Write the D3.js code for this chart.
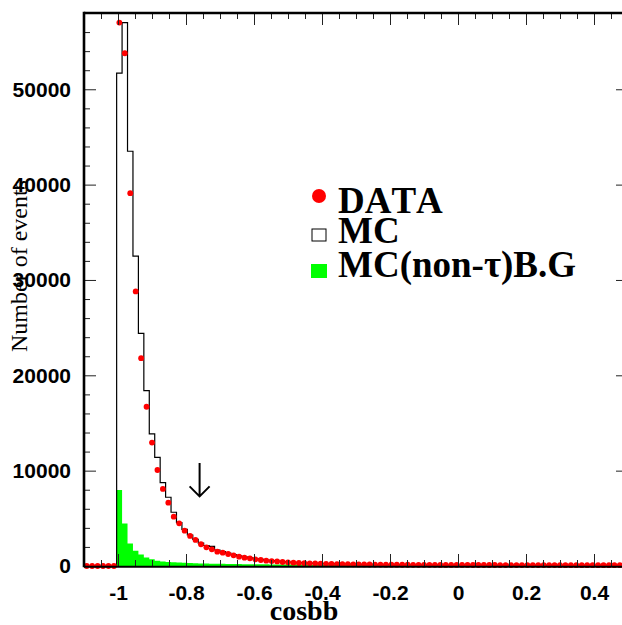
<!DOCTYPE html>
<html>
<head>
<meta charset="utf-8">
<script src="https://cdn.jsdelivr.net/npm/d3@7"></script>
<style>
  body { margin: 0; background: #fff; }
  svg { display: block; }
  .lab { font-family: "Liberation Sans", Arial, sans-serif; font-weight: bold; font-size: 21px; fill: #000; }
  .ser { font-family: "Liberation Serif", "Times New Roman", serif; fill: #000; font-kerning: none; }
</style>
</head>
<body>
<svg id="chart" width="622" height="625"></svg>
<script>
// 100 bins from -1.1 to 0.5 (width 0.016)
const binLow = -1.1, binHigh = 0.5, nBins = 100;

const dataCounts = [
  0, 0, 0, 0, 0, 0, 57000, 53780, 39100, 28800,
  21800, 16700, 12940, 10070, 8080, 6640, 5170, 4480, 3700, 3150,
  2730, 2280, 1960, 1750, 1500, 1400, 1260, 1120, 980, 870,
  810, 700, 630, 560, 520, 480, 420, 390, 350, 315,
  300, 280, 260, 245, 230, 220, 205, 195, 185, 175,
  165, 160, 155, 150, 145, 140, 138, 135, 132, 130,
  128, 125, 122, 120, 118, 116, 115, 113, 112, 110,
  108, 107, 106, 105, 104, 103, 102, 101, 100, 99,
  98, 97, 96, 95, 94, 93, 92, 91, 90, 90,
  89, 88, 87, 86, 85, 85, 84, 83, 82, 81
];

const mcCounts = [
  0, 0, 0, 0, 0, 0, 51700, 57000, 43500, 32500,
  24400, 18400, 13850, 11400, 8740, 7210, 5640, 4545, 3850, 3250,
  2800, 2400, 2150, 2050, 1680, 1500, 1350, 1200, 1060, 950,
  860, 770, 690, 620, 560, 510, 460, 420, 380, 350,
  320, 295, 275, 255, 240, 228, 215, 205, 195, 185,
  175, 168, 160, 155, 150, 145, 141, 138, 135, 132,
  130, 127, 124, 122, 120, 118, 116, 115, 113, 111,
  110, 108, 107, 106, 105, 104, 103, 102, 101, 100,
  99, 98, 97, 96, 95, 94, 93, 92, 91, 90,
  90, 89, 88, 87, 86, 86, 85, 84, 83, 82
];

const bgCounts = [
  0, 0, 0, 0, 0, 0, 7970, 4450, 2350, 1600,
  1200, 900, 700, 560, 460, 430, 400, 370, 340, 310,
  290, 270, 255, 245, 235, 225, 215, 205, 200, 195,
  190, 185, 180, 175, 170, 165, 160, 155, 150, 148,
  145, 142, 140, 138, 135, 132, 130, 128, 126, 124,
  122, 120, 118, 117, 116, 115, 114, 113, 112, 111,
  110, 109, 108, 107, 106, 105, 104, 103, 102, 101,
  100, 100, 99, 99, 98, 98, 97, 97, 96, 96,
  95, 95, 94, 94, 93, 93, 92, 92, 91, 91,
  90, 90, 90, 90, 90, 90, 90, 90, 90, 90
];

const xTicks = [-1, -0.8, -0.6, -0.4, -0.2, 0, 0.2, 0.4];
const yTicks = [0, 10000, 20000, 30000, 40000, 50000];

const legendItems = ['DATA', 'MC', 'MC(non-τ)B.G'];
const arrowX = -0.76, arrowFrom = 10800, arrowTo = 7300;

const frame = { left: 84, right: 628, top: 13, bottom: 566 };

const svg = d3.select('#chart');

const x = d3.scaleLinear().domain([binLow, binHigh]).range([frame.left, frame.right]);
const y = d3.scaleLinear().domain([0, 58000]).range([frame.bottom, frame.top]);

const binW = (binHigh - binLow) / nBins;
const edges = d3.range(nBins + 1).map(i => binLow + i * binW);
const centers = d3.range(nBins).map(i => binLow + (i + 0.5) * binW);

// step points: each bin value starts at its low edge; repeat last value at the high edge
function steps(counts) {
  let pts = counts.map((v, i) => [edges[i], v]);
  pts.push([edges[nBins], counts[nBins - 1]]);
  return pts;
}

const plot = svg.append('g');

// background (non-tau) filled histogram
const area = d3.area()
  .x(d => x(d[0]))
  .y0(y(0))
  .y1(d => y(d[1]))
  .curve(d3.curveStepAfter);

plot.append('path')
  .datum(steps(bgCounts))
  .attr('fill', '#00ff00')
  .attr('stroke', 'none')
  .attr('d', area);

// MC histogram outline
const line = d3.line()
  .x(d => x(d[0]))
  .y(d => y(d[1]))
  .curve(d3.curveStepAfter);

plot.append('path')
  .datum(steps(mcCounts))
  .attr('fill', 'none')
  .attr('stroke', '#000')
  .attr('stroke-width', 1.2)
  .attr('d', line);

// DATA points
plot.selectAll('circle.pt')
  .data(dataCounts)
  .join('circle')
  .attr('class', 'pt')
  .attr('cx', (d, i) => x(centers[i]))
  .attr('cy', d => y(d))
  .attr('r', 2.9)
  .attr('fill', '#ff0000');

// axes (ticks inside the frame)
const xMinor = d3.range(-1.1, 0.5001, 0.05).filter(v => !xTicks.some(t => Math.abs(t - v) < 1e-6));
const yMinor = d3.range(0, 58001, 2000).filter(v => v % 10000 !== 0);

function styleAxis(g) {
  g.select('.domain').remove();
  g.selectAll('.tick line').attr('stroke', '#222').attr('stroke-width', 1);
}

svg.append('g').attr('transform', `translate(${frame.left},0)`)
  .call(d3.axisLeft(y).tickValues(yTicks).tickSize(-12).tickPadding(13).tickFormat(d3.format('d')))
  .call(styleAxis)
  .call(g => g.selectAll('text').attr('class', 'lab').attr('font-size', null).attr('font-family', null));

svg.append('g').attr('transform', `translate(${frame.left},0)`)
  .call(d3.axisLeft(y).tickValues(yMinor).tickSize(-6).tickFormat(''))
  .call(styleAxis);

svg.append('g').attr('transform', `translate(${frame.right},0)`)
  .call(d3.axisRight(y).tickValues(yTicks).tickSize(-12).tickFormat(''))
  .call(styleAxis);
svg.append('g').attr('transform', `translate(${frame.right},0)`)
  .call(d3.axisRight(y).tickValues(yMinor).tickSize(-6).tickFormat(''))
  .call(styleAxis);

// ROOT style labels: plain hyphen, no trailing zeros
const xFmt = d => String(+d.toFixed(1));

svg.append('g').attr('transform', `translate(0,${frame.bottom})`)
  .call(d3.axisBottom(x).tickValues(xTicks).tickSize(-12).tickPadding(20).tickFormat(xFmt))
  .call(styleAxis)
  .call(g => g.selectAll('text').attr('class', 'lab').attr('font-size', null).attr('font-family', null).attr('dy', null).attr('y', 34));

svg.append('g').attr('transform', `translate(0,${frame.bottom})`)
  .call(d3.axisBottom(x).tickValues(xMinor).tickSize(-6).tickFormat(''))
  .call(styleAxis);

svg.append('g').attr('transform', `translate(0,${frame.top})`)
  .call(d3.axisTop(x).tickValues(xTicks).tickSize(-12).tickFormat(''))
  .call(styleAxis);
svg.append('g').attr('transform', `translate(0,${frame.top})`)
  .call(d3.axisTop(x).tickValues(xMinor).tickSize(-6).tickFormat(''))
  .call(styleAxis);

// frame
svg.append('line').attr('x1', frame.left).attr('x2', frame.left).attr('y1', frame.top - 1.3).attr('y2', frame.bottom + 1.2)
  .attr('stroke', '#000').attr('stroke-width', 2.6);
svg.append('line').attr('x1', frame.left).attr('x2', frame.right).attr('y1', frame.top).attr('y2', frame.top)
  .attr('stroke', '#000').attr('stroke-width', 2.6);
svg.append('line').attr('x1', frame.left).attr('x2', frame.right).attr('y1', frame.bottom + 0.8).attr('y2', frame.bottom + 0.8)
  .attr('stroke', '#000').attr('stroke-width', 2);
svg.append('line').attr('x1', frame.right).attr('x2', frame.right).attr('y1', frame.top).attr('y2', frame.bottom)
  .attr('stroke', '#000').attr('stroke-width', 2);

// axis titles
svg.append('text')
  .attr('class', 'ser')
  .attr('x', 304).attr('y', 620)
  .attr('text-anchor', 'middle')
  .attr('font-weight', 'bold')
  .attr('font-size', 28)
  .text('cosbb');

svg.append('clipPath').attr('id', 'ytclip')
  .append('rect').attr('x', 0).attr('y', 178).attr('width', 60).attr('height', 250);

svg.append('g')
  .attr('clip-path', 'url(#ytclip)')
  .append('text')
  .attr('class', 'ser')
  .attr('transform', 'translate(27,352) rotate(-90)')
  .attr('font-size', 24)
  .text('Number of events');

// arrow
const ax = x(arrowX);
svg.append('path')
  .attr('d', `M${ax},${y(arrowFrom)}L${ax},${y(arrowTo)}M${ax - 10},${y(arrowTo) - 10}L${ax},${y(arrowTo)}L${ax + 10},${y(arrowTo) - 10}`)
  .attr('fill', 'none')
  .attr('stroke', '#000')
  .attr('stroke-width', 2);

// legend
const leg = svg.append('g').attr('transform', 'translate(319,0)');
const rowY = [213, 243, 277];
leg.append('circle').attr('cx', 0).attr('cy', 196).attr('r', 7).attr('fill', '#ff0000');
leg.append('rect').attr('x', -7).attr('y', 229).attr('width', 14).attr('height', 12)
  .attr('fill', '#fff').attr('stroke', '#000').attr('stroke-width', 1);
leg.append('rect').attr('x', -8).attr('y', 264).attr('width', 16).attr('height', 14).attr('fill', '#00ff00');

leg.selectAll('text.legtxt')
  .data(legendItems)
  .join('text')
  .attr('class', 'ser legtxt')
  .attr('x', 19)
  .attr('y', (d, i) => rowY[i])
  .attr('font-weight', 'bold')
  .attr('font-size', 37)
  .text(d => d);
</script>
</body>
</html>
